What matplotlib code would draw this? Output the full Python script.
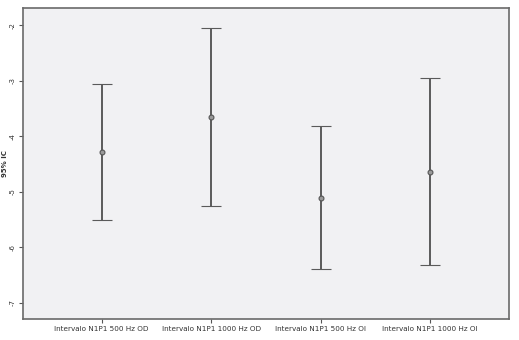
import numpy as np
import matplotlib.pyplot as plt

# intervalos de confianza 95%
categorias = ['Intervalo N1P1 500 Hz OD', 'Intervalo N1P1 1000 Hz OD',
              'Intervalo N1P1 500 Hz OI', 'Intervalo N1P1 1000 Hz OI']
medias = [-4.28, -3.65, -5.11, -4.64]
superior = [-3.06, -2.05, -3.82, -2.95]
inferior = [-5.51, -5.26, -6.39, -6.32]
yticks = [-2, -3, -4, -5, -6, -7]

fig = plt.figure(figsize=(5.19, 3.40), dpi=100)
ax = fig.add_axes([0.044, 0.062, 0.937, 0.914])
ax.set_facecolor('#f1f1f3')

x = np.arange(len(categorias))
medias = np.array(medias)
err = [medias - np.array(inferior), np.array(superior) - medias]
ax.errorbar(x, medias, yerr=err, fmt='o', color='#5a5a5a', ecolor='#5a5a5a',
            elinewidth=1.4, capsize=7.2, capthick=1.4,
            markersize=3.5, markerfacecolor='#9a9a9a', markeredgecolor='#555555',
            markeredgewidth=0.8)

ax.set_xlim(-0.72, 3.72)
ax.set_ylim(-7.29, -1.69)
ax.set_xticks(x)
ax.set_xticklabels(categorias, fontsize=5.2, color='#333333')
ax.set_yticks(yticks)
ax.set_yticklabels([str(v) for v in yticks], fontsize=5, rotation=90, va='center',
                   color='#333333')
ax.tick_params(axis='both', length=3, width=0.8, color='#555555', pad=2)
ax.set_ylabel('95% IC', fontsize=5, fontweight='bold', color='#333333')
ax.yaxis.set_label_coords(-0.03, 0.5)

for s in ax.spines.values():
    s.set_color('#6a6a6a')
    s.set_linewidth(1.2)

fig.savefig('out.png', dpi=100)
